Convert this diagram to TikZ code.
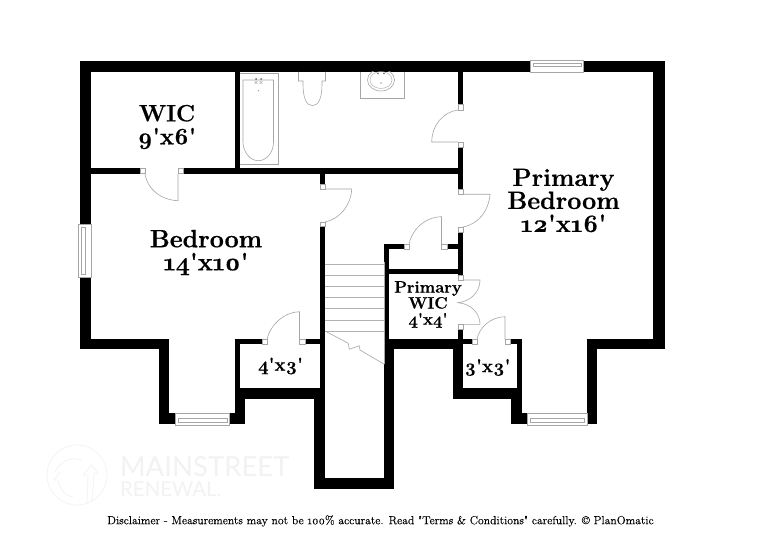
\documentclass[tikz,border=0pt]{standalone}
\usepackage{fontspec}
\newfontfamily\markfont{Lato}
\newfontfamily\labfont[Numbers=OldStyle,Ligatures=TeXOff,FakeBold=0.6,BoldFont={Latin Modern Roman/B}]{Latin Modern Roman}
\newfontfamily\discfont[Numbers=OldStyle,Ligatures=TeXOff,FakeBold=0.15]{Latin Modern Roman}
\tikzset{
  x=1pt,y=-1pt,
  thinl/.style={draw=black!35,line width=0.6pt,fill=none},
  post/.style={draw=black!35,line width=0.5pt,fill=white},
  room/.style={align=center,inner sep=0pt,text=black},
  wm/.style={text=black!5,inner sep=0pt,anchor=west,font=\markfont},
  logo/.style={draw=black!5,line width=0.7pt}
}
\newcommand{\wall}[4]{\fill[black] (#1,#2) rectangle (#3,#4);}
\newcommand{\postbox}[4]{\draw[post] (#1,#2) rectangle (#3,#4);}
\begin{document}
\begin{tikzpicture}
\useasboundingbox (0,0) rectangle (760,553);
\fill[white] (0,0) rectangle (760,553);
% watermark
\draw[logo] (77,475) circle[radius=30];
\draw[logo] (55,472) .. controls (60,462) and (70,456) .. (82,460);
\draw[logo] (60,472) -- (54,480) -- (58,480) .. controls (60,490) and (66,496) .. (73,497);
\draw[logo] (91.7,465) -- (83,475) -- (88,475) -- (87,503);
\draw[logo] (91.7,465) -- (98,473) -- (94,474) -- (92,502);
\node[wm,font=\markfont\fontsize{27.5}{28}\selectfont] (mark1) at (120,467) {MAINSTREET};
\node[wm,font=\markfont\fontsize{20.4}{20}\selectfont] (mark2) at (120,489.5) {RENEWAL.};
% outer top
\wall{80}{61}{530}{72}
\wall{584}{61}{665}{72}
% right
\wall{653}{61}{665}{349}
\wall{587}{339}{665}{349}
\wall{587}{339}{597}{424}
% left
\wall{80}{61}{91}{224}
\wall{80}{277}{91}{349}
\wall{80}{339}{169}{349}
\wall{159}{339}{169}{424}
\wall{159}{413}{175}{424}
% left bay right
\wall{229}{413}{245}{424}
\wall{235}{388}{245}{424}
\wall{235}{339}{240}{399}
\wall{235}{388}{320}{399}
\wall{235}{339}{262}{344}
\wall{305}{339}{320}{344}
% stair well
\wall{320}{174}{325}{184}
\wall{320}{226}{325}{399}
\wall{314}{388}{325}{489}
\wall{314}{478}{394}{489}
\wall{384}{340}{394}{489}
\wall{384}{244}{389}{349}
% interior
\wall{91}{168}{140}{174}
\wall{183}{168}{463}{174}
\wall{235}{72}{240}{168}
\wall{458}{72}{463}{104}
\wall{458}{147}{463}{189}
\wall{458}{232}{463}{275}
\wall{384}{244}{404}{249}
\wall{447}{244}{458}{249}
\wall{389}{269}{458}{274}
% primary WIC / 3x3
\wall{384}{339}{453}{349}
\wall{458}{329}{463}{340}
\wall{453}{339}{472}{344}
\wall{453}{339}{463}{399}
\wall{453}{388}{517}{399}
\wall{510}{339}{522}{344}
\wall{517}{339}{522}{424}
\wall{511}{388}{522}{424}
\wall{511}{413}{527}{424}
% door posts
\postbox{140}{168.5}{145}{173.5}
\postbox{178}{168.5}{183}{173.5}
\postbox{320}{184}{325}{189}
\postbox{320}{222}{325}{226.5}
\postbox{458}{104.5}{463}{110}
\postbox{458}{142}{463}{147}
\postbox{458}{189}{463}{194}
\postbox{458}{227}{463}{232}
\postbox{404}{244.5}{409}{249}
\postbox{441.5}{244.5}{447}{249}
\postbox{458}{275}{463}{280}
\postbox{458}{324.5}{463}{329}
\postbox{262}{339.5}{267}{344}
\postbox{299.5}{339.5}{305}{344}
\postbox{472}{339.5}{477}{344}
\postbox{505}{339.5}{510}{344}
% doors
\draw[thinl] (178,174) -- (178,200.7) .. controls (160,200) and (147,188) .. (145,174);
\draw[thinl] (325,189) -- (351.7,189) .. controls (351,205) and (340,219) .. (325,222);
\draw[thinl] (458,142) -- (431.7,142) .. controls (432,125) and (443,112) .. (458,110);
\draw[thinl] (463,194.3) -- (490,194.3) .. controls (489,210) and (479,224) .. (463,227);
\draw[thinl] (441.5,245) -- (441.5,216.7) .. controls (425,217) and (411,230) .. (409,245);
\draw[thinl] (463,280) -- (480,280) .. controls (480,291) and (472,301) .. (458,302.7) .. controls (472,304) and (480,314) .. (480,324.3) -- (463,324.3);
\draw[thinl] (505,339.5) -- (505,316.7) .. controls (490,317) and (479,328) .. (477,339.5);
\draw[thinl] (299.5,339.5) -- (299.5,311.7) .. controls (284,312) and (270,325) .. (267,339.5);
% stairs
\foreach \yy in {264.3,275.7,286.7,297.7,308.7,320,331}{
  \draw[black!30,line width=0.5pt] (325,\yy) -- (384,\yy);
}
\draw[thinl] (384.3,262) -- (384.3,364.3);
\draw[thinl] (325,331) -- (348.3,343.3) -- (349.3,349.3) -- (359.3,345.7) -- (360,350) -- (384.3,364.3);
% windows
\draw[thinl,fill=white] (530.5,60) rectangle (583.5,72);
\draw[thinl,line width=0.4pt] (533,63) rectangle (581,66.5);
\draw[thinl,fill=white] (78.5,224) rectangle (91,277);
\draw[thinl,line width=0.4pt] (81.5,227) rectangle (85,274);
\draw[thinl,fill=white] (175.5,413.5) rectangle (229,425);
\draw[thinl,line width=0.4pt] (178,418) rectangle (227,422);
\draw[thinl,fill=white] (527,413.5) rectangle (587,425);
\draw[thinl,line width=0.4pt] (530,418) rectangle (584,422);
% bath
\draw[thinl] (240,73) -- (278,73) -- (278,164.5) -- (240,164.5);
\draw[thinl] (243,80) -- (273.5,80) -- (273.5,142) .. controls (273.5,152) and (267,160.7) .. (258.3,160.7) .. controls (250,160.7) and (243,152) .. (243,142) -- cycle;
\fill[black!60] (256,79) circle (1) (261,79) circle (1);
\draw[black!30,line width=0.4pt] (254.5,81) -- (257.5,84) (257.5,81) -- (254.5,84) (259.5,81) -- (262.5,84) (262.5,81) -- (259.5,84);
\fill[black!35] (258.5,90.7) circle (0.8);
% toilet
\draw[thinl] (298.5,72) -- (298.5,81) -- (303,81) -- (303,84) .. controls (303,97) and (306,105.7) .. (312.5,105.7) .. controls (319,105.7) and (322,97) .. (322,84) -- (322,81) -- (325.5,81) -- (325.5,72);
% sink
\draw[thinl] (360.5,72) -- (360.5,98) -- (404.5,98) -- (404.5,72);
\begin{scope}
\clip (360,72) rectangle (405,98);
\draw[thinl] (381,80) ellipse[x radius=13.5,y radius=11];
\draw[thinl,line width=0.4pt] (381,80) ellipse[x radius=11,y radius=8.5];
\end{scope}
\fill[black!60] (378,73.5) circle (0.8) (384,73.5) circle (0.8);
\fill[black!35] (381,83) circle (0.8);
% labels
\node[room,font=\labfont\bfseries\fontsize{23.5}{24}\selectfont] (l1) at (167,127) {WIC\\[-1pt]9'x6'};
\node[room,font=\labfont\bfseries\fontsize{25}{24}\selectfont] (l2) at (206,252.5) {Bedroom\\[-1pt]14'x10'};
\node[room,font=\labfont\bfseries\fontsize{25}{24}\selectfont] (l3) at (563.5,200.5) {Primary\\[-1pt]Bedroom\\[-1pt]12'x16'};
\node[room,font=\labfont\bfseries\fontsize{16.5}{16}\selectfont] (l4) at (428,304.5) {Primary\\WIC\\4'x4'};
\node[room,font=\labfont\bfseries\fontsize{18.5}{18}\selectfont] (l5) at (280.5,366) {4'x3'};
\node[room,font=\labfont\bfseries\fontsize{18.5}{18}\selectfont] (l6) at (487.5,367.5) {3'x3'};
\node[inner sep=0pt,font=\discfont\fontsize{11.7}{13}\selectfont] (disc) at (380.5,521) {Disclaimer - Measurements may not be 100\% accurate. Read "Terms \& Conditions" carefully. © PlanOmatic};
\end{tikzpicture}
\end{document}
